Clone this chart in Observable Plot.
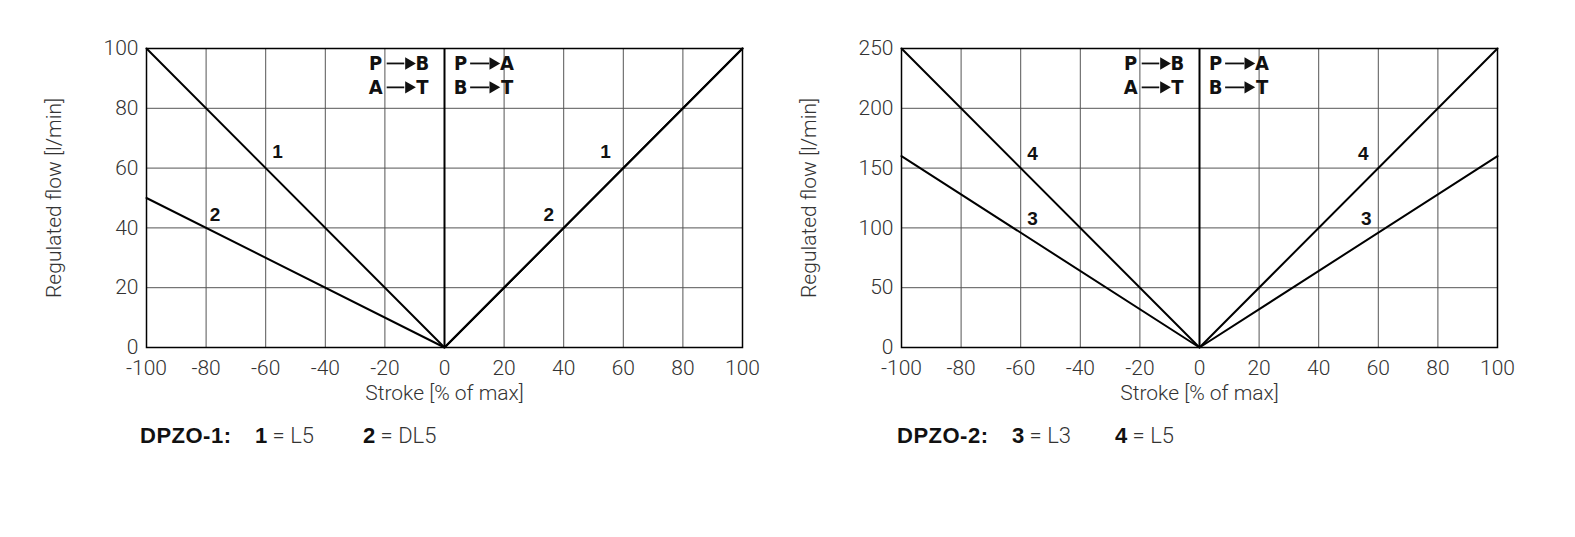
<!DOCTYPE html>
<html>
<head>
<meta charset="utf-8">
<script src="https://cdn.jsdelivr.net/npm/d3@7"></script>
<script src="https://cdn.jsdelivr.net/npm/@observablehq/plot@0.6"></script>
<style>
  html, body { margin: 0; padding: 0; background: #fff; }
  #page { position: relative; width: 1575px; height: 537px; overflow: hidden; font-family: "Liberation Sans", Arial, sans-serif; color: #333; }
  .chart { position: absolute; top: 0; }
  .legend { position: absolute; top: 423px; font-size: 22px; color: #333; white-space: nowrap; font-family: Roboto, "Liberation Sans", sans-serif; font-weight: 300; }
  .legend b { font-weight: bold; color: #111; font-family: "Liberation Sans", Arial, sans-serif; }
</style>
</head>
<body>
<div id="page">
  <div class="chart" id="c1" style="left:0px"></div>
  <div class="chart" id="c2" style="left:760px"></div>
  <div class="legend" style="left:140px"><b style="letter-spacing:0.5px">DPZO-1:</b></div>
  <div class="legend" style="left:255px"><b>1</b> = L5</div>
  <div class="legend" style="left:363px"><b>2</b> = DL5</div>
  <div class="legend" style="left:897px"><b style="letter-spacing:0.5px">DPZO-2:</b></div>
  <div class="legend" style="left:1012px"><b>3</b> = L3</div>
  <div class="legend" style="left:1115px"><b>4</b> = L5</div>
</div>
<script>
// ---- data ----
const strokePct = [-100, 0, 100];
const xTicks = [-100, -80, -60, -40, -20, 0, 20, 40, 60, 80, 100];

// DPZO-1
const flow1_L5 = [100, 0, 100];
const flow1_DL5 = [50, 0, 100];
const yTicks1 = [0, 20, 40, 60, 80, 100];
const curveLabels1 = ["1", "1", "2", "2"];
const curveLabelX1 = [-56, 54, -77, 35];
const curveLabelY1 = [65.5, 65.5, 44.5, 44.5];

// DPZO-2
const flow2_L3 = [160, 0, 160];
const flow2_L5 = [250, 0, 250];
const yTicks2 = [0, 50, 100, 150, 200, 250];
const curveLabels2 = ["4", "4", "3", "3"];
const curveLabelX2 = [-56, 55, -56, 56];
const curveLabelY2 = [161.5, 161.5, 107.5, 107.5];

// flow direction annotation (same for both charts)
const dirLetters = ["P", "B", "A", "T", "P", "A", "B", "T"];
const dirLetterX = [-23.1, -7.4, -23.1, -7.4, 5.4, 21.0, 5.4, 21.0];
const dirLetterRow = [0, 0, 1, 1, 0, 0, 1, 1];
const arrowX1 = [-19.4, -19.4, 8.6, 8.6];
const arrowX2 = [-13.5, -13.5, 15, 15];
const arrowHeadX = [-12.0, -12.0, 16.3, 16.3];
const arrowRow = [0, 1, 0, 1];
const rowFrac = [0.95, 0.87];

function makeChart(series, yTicks, labels, lx, ly, marginLeft, marginRight) {
  const ymax = yTicks[yTicks.length - 1];
  const lineData = [];
  series.forEach((s, si) => s.forEach((v, i) => lineData.push({x: strokePct[i], y: v, s: si})));
  const lbl = labels.map((t, i) => ({t, x: lx[i], y: ly[i]}));
  const dir = dirLetters.map((t, i) => ({t, x: dirLetterX[i], y: ymax * rowFrac[dirLetterRow[i]]}));
  const arr = arrowX1.map((x1, i) => ({x1, x2: arrowX2[i], xh: arrowHeadX[i], y: ymax * rowFrac[arrowRow[i]]}));
  return Plot.plot({
    width: 760,
    height: 410,
    marginTop: 48,
    marginBottom: 63,
    marginLeft,
    marginRight,
    style: {fontFamily: "Roboto, Liberation Sans, Arial, sans-serif", fontWeight: 300, fontSize: "21px", color: "#333", background: "#fff"},
    x: {domain: [-100, 100]},
    y: {domain: [0, ymax]},
    marks: [
      Plot.gridX(xTicks, {stroke: "#555", strokeOpacity: 1, strokeWidth: 1}),
      Plot.gridY(yTicks, {stroke: "#555", strokeOpacity: 1, strokeWidth: 1}),
      Plot.ruleX([0], {stroke: "#000", strokeWidth: 2}),
      Plot.frame({stroke: "#000", strokeWidth: 1.5}),
      Plot.axisX({ticks: xTicks, tickFormat: d => String(d), tickSize: 0, tickPadding: 13, label: "Stroke [% of max]", labelAnchor: "center", labelArrow: "none", labelOffset: 52}),
      Plot.axisY({ticks: yTicks, tickFormat: d => String(d), tickSize: 0, tickPadding: 8, label: "Regulated flow [l/min]", labelAnchor: "center", labelArrow: "none", labelOffset: 100}),
      Plot.line(lineData, {x: "x", y: "y", z: "s", stroke: "#000", strokeWidth: 2}),
      Plot.text(lbl, {x: "x", y: "y", text: "t", fontWeight: "bold", fontSize: 19, fill: "#111", fontFamily: "Liberation Sans, Arial, sans-serif"}),
      Plot.text(dir, {x: "x", y: "y", text: "t", fontWeight: "bold", fontSize: 20, fill: "#111", fontFamily: "DejaVu Sans Condensed"}),
      Plot.link(arr, {x1: "x1", x2: "x2", y1: "y", y2: "y", stroke: "#111", strokeWidth: 1.8}),
      Plot.dot(arr, {x: "xh", y: "y", symbol: "triangle", rotate: 90, r: 4.6, fill: "#111", stroke: "none"})
    ]
  });
}

document.getElementById("c1").append(
  makeChart([flow1_L5, flow1_DL5], yTicks1, curveLabels1, curveLabelX1, curveLabelY1, 146, 18));
document.getElementById("c2").append(
  makeChart([flow2_L5, flow2_L3], yTicks2, curveLabels2, curveLabelX2, curveLabelY2, 141, 23));
</script>
</body>
</html>
